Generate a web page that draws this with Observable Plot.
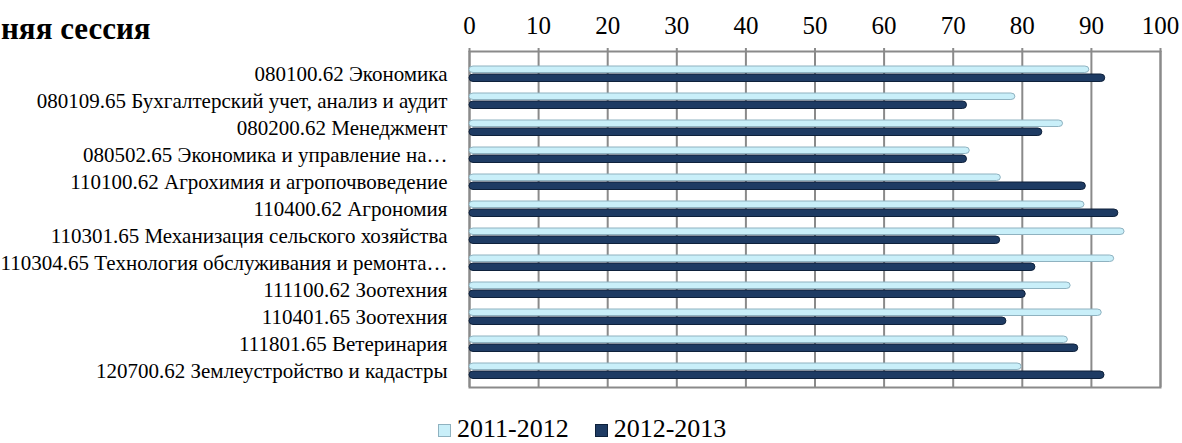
<!DOCTYPE html>
<html><head><meta charset="utf-8">
<script src="https://cdn.jsdelivr.net/npm/d3@7"></script>
<script src="https://cdn.jsdelivr.net/npm/@observablehq/plot@0.6"></script>
<style>
body{margin:0;background:#fff;font-family:"Liberation Serif",serif;}
#wrap{position:relative;width:1182px;height:443px;overflow:hidden;}
#chart{position:absolute;left:0;top:0;}
#title{position:absolute;left:1px;top:11px;font-size:31px;line-height:36px;font-weight:bold;color:#000;white-space:nowrap;}
#legend{position:absolute;top:418px;left:438px;font-size:26px;line-height:22px;color:#000;white-space:nowrap;}
.sw{display:inline-block;width:13px;height:13px;margin-right:6px;vertical-align:0px;box-sizing:border-box;}
.item{display:inline-block;margin-right:26px;}
</style></head><body>
<div id="wrap"><div id="chart"></div><div id="title">няя сессия</div><div id="legend"></div></div>
<script>
const categories = [
  "080100.62 Экономика",
  "080109.65 Бухгалтерский учет, анализ и аудит",
  "080200.62 Менеджмент",
  "080502.65 Экономика и управление на…",
  "110100.62 Агрохимия и агропочвоведение",
  "110400.62 Агрономия",
  "110301.65 Механизация сельского хозяйства",
  "110304.65 Технология обслуживания и ремонта…",
  "111100.62 Зоотехния",
  "110401.65 Зоотехния",
  "111801.65 Ветеринария",
  "120700.62 Землеустройство и кадастры"
];
const seriesNames = ["2011-2012", "2012-2013"];
const values2011 = [89.7, 79.0, 85.9, 72.4, 76.9, 89.0, 94.8, 93.3, 87.0, 91.5, 86.6, 79.9];
const values2012 = [92.0, 72.0, 82.9, 72.0, 89.2, 93.9, 76.8, 81.9, 80.5, 77.7, 88.1, 91.9];
const tickValues = [0, 10, 20, 30, 40, 50, 60, 70, 80, 90, 100];
const colors = ["#c9eff9", "#1e3b63"];
const strokes = ["#8fb2c0", "#0e213b"];
const serif = "Liberation Serif";

const rows2011 = categories.map((c, i) => ({cat: c, series: seriesNames[0], v: values2011[i]}));
const rows2012 = categories.map((c, i) => ({cat: c, series: seriesNames[1], v: values2012[i]}));

const chart = Plot.plot({
  width: 1182, height: 420,
  marginLeft: 469, marginRight: 22, marginTop: 51, marginBottom: 33,
  insetTop: 6,
  style: {fontFamily: serif, fontSize: "21px", color: "#000", background: "#fff", overflow: "visible"},
  x: {domain: [0, 100], label: null},
  y: {domain: categories, padding: 0, label: null},
  marks: [
    Plot.gridX(tickValues, {stroke: "#8a8a8a", strokeOpacity: 1, strokeWidth: 2}),
    Plot.frame({stroke: "#8a8a8a", strokeWidth: 2}),
    Plot.barX(rows2011, {y: "cat", x: "v", insetTop: 6, insetBottom: 14.5, fill: colors[0], stroke: strokes[0], strokeWidth: 1, rx: 4}),
    Plot.barX(rows2012, {y: "cat", x: "v", insetTop: 14, insetBottom: 5.5, fill: colors[1], stroke: strokes[1], strokeWidth: 1, rx: 4}),
    Plot.axisX({anchor: "top", ticks: tickValues, tickSize: 4, tickPadding: 14, fontSize: 25, fontFamily: serif, stroke: "#8a8a8a", strokeWidth: 2, label: null}),
    Plot.axisY({anchor: "left", tickSize: 0, tickPadding: 22, fontSize: 21, fontFamily: serif, label: null})
  ]
});
document.getElementById("chart").appendChild(chart);

const legend = document.getElementById("legend");
legend.innerHTML = seriesNames.map((s, i) =>
  `<span class="item"><span class="sw" style="background:${colors[i]};border:1px solid ${strokes[i]}"></span>${s}</span>`
).join("");
</script>
</body></html>
